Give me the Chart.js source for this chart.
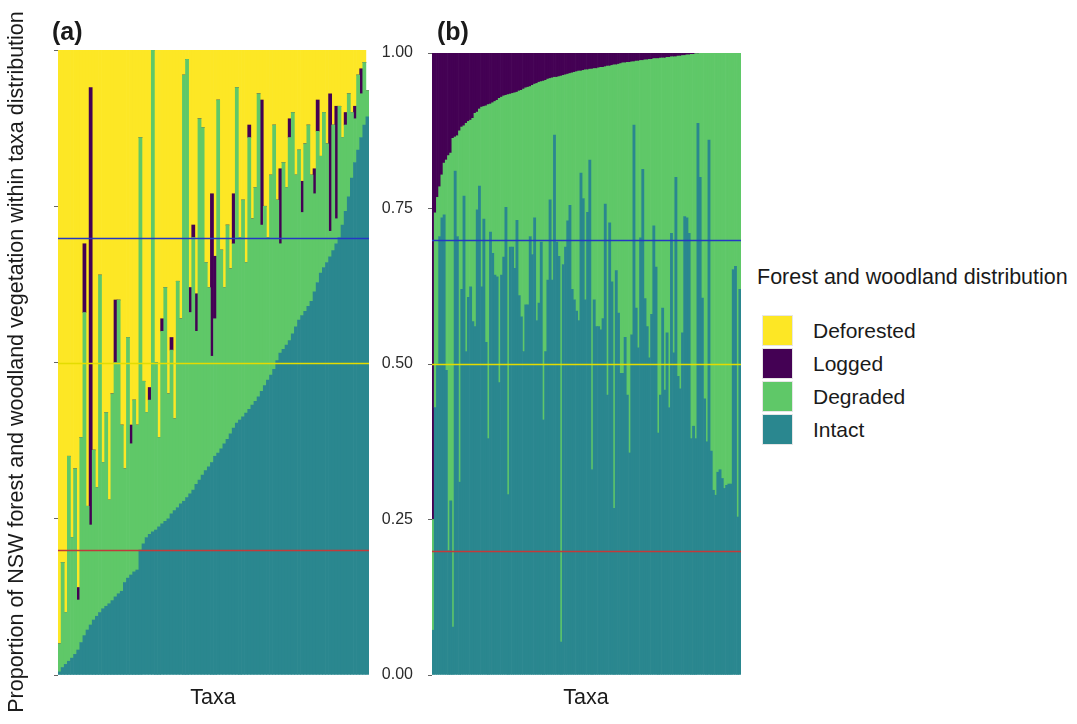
<!DOCTYPE html>
<html>
<head>
<meta charset="utf-8">
<title>NSW forest and woodland vegetation within taxa distribution</title>
<script src="https://cdn.jsdelivr.net/npm/chart.js@4.4.0/dist/chart.umd.min.js"></script>
<style>
  body { margin: 0; background: #fff; font-family: 'Liberation Sans', Arial, sans-serif; color: #1a1a1a; }
  #wrap { position: relative; width: 1077px; height: 724px; overflow: hidden; }
  canvas { position: absolute; top: 0; }
  .txt { position: absolute; white-space: nowrap; }
  .panel { font-size: 25px; font-weight: bold; line-height: 28px; }
  .axis { font-size: 21.5px; line-height: 24px; text-align: center; }
  #ytitle { left: -364px; top: 350px; width: 760px; transform: rotate(-90deg); }
  #legend { position: absolute; left: 757px; top: 264px; font-size: 21px; }
  #legend .title { font-size: 21.5px; line-height: 26px; margin-bottom: 25px; }
  #legend .item { height: 31px; margin-bottom: 2px; margin-left: 5px; display: flex; align-items: center; }
  #legend .sw { width: 31px; height: 31px; box-sizing: border-box; border: 1px solid #e6e6e6; margin-right: 20px; }
</style>
</head>
<body>
<div id="wrap">
  <canvas id="chartA" width="380" height="724" style="left:0;width:380px;height:724px"></canvas>
  <canvas id="chartB" width="370" height="724" style="left:380px;width:370px;height:724px"></canvas>
  <div class="txt panel" style="left:52px;top:17px">(a)</div>
  <div class="txt panel" style="left:437px;top:17px">(b)</div>
  <div class="txt axis" style="left:113px;top:685px;width:200px">Taxa</div>
  <div class="txt axis" style="left:486px;top:685px;width:200px">Taxa</div>
  <div class="txt axis" id="ytitle">Proportion of NSW forest and woodland vegetation within taxa distribution</div>
  <div id="legend"></div>
</div>
<script>
// legend / series
const seriesNames = ['Intact', 'Degraded', 'Logged', 'Deforested'];
const seriesColors = ['#2a878f', '#5fc868', '#440154', '#fde725'];

// reference lines
const refLevels = [0.7, 0.5, 0.2];
const refColors = ['#2438c4', '#e4dc00', '#c23a3a'];

const yTicks = [0, 0.25, 0.5, 0.75, 1];

// (a) all vegetation, sorted by intact
const intactA = [
  0.005,0.012,0.017,0.022,0.027,0.033,0.040,0.052,0.063,0.072,
  0.080,0.088,0.094,0.100,0.106,0.110,0.114,0.119,0.125,0.130,
  0.134,0.148,0.155,0.160,0.165,0.168,0.200,0.210,0.220,0.225,
  0.229,0.232,0.237,0.242,0.246,0.250,0.258,0.263,0.268,0.274,
  0.278,0.284,0.290,0.296,0.305,0.312,0.320,0.327,0.333,0.340,
  0.350,0.355,0.362,0.370,0.377,0.386,0.395,0.403,0.408,0.413,
  0.419,0.425,0.432,0.438,0.445,0.454,0.463,0.472,0.480,0.489,
  0.503,0.515,0.521,0.528,0.535,0.546,0.557,0.568,0.575,0.582,
  0.590,0.598,0.613,0.628,0.643,0.652,0.660,0.669,0.679,0.690,
  0.700,0.720,0.742,0.765,0.795,0.820,0.840,0.860,0.880,0.893
];
const degradedA = [
  0.045,0.168,0.083,0.328,0.193,0.297,0.080,0.328,0.517,0.198,
  0.160,0.272,0.206,0.540,0.234,0.310,0.166,0.331,0.375,0.470,
  0.266,0.182,0.385,0.210,0.275,0.232,0.660,0.260,0.200,0.215,
  0.771,0.268,0.143,0.308,0.374,0.200,0.262,0.147,0.362,0.296,
  0.682,0.701,0.290,0.404,0.245,0.578,0.556,0.333,0.287,0.170,
  0.220,0.565,0.318,0.250,0.343,0.264,0.295,0.537,0.292,0.347,
  0.241,0.435,0.298,0.342,0.485,0.266,0.287,0.228,0.320,0.391,
  0.257,0.175,0.299,0.252,0.325,0.354,0.243,0.272,0.165,0.268,
  0.290,0.202,0.157,0.242,0.187,0.248,0.190,0.041,0.201,0.040,
  0.210,0.140,0.138,0.165,0.105,0.070,0.120,0.070,0.100,0.042
];
const loggedA = [
  0,0,0,0,0,0,0.02,0,0.11,0,
  0.70,0,0,0,0,0,0,0,0.10,0,
  0,0,0,0.03,0,0,0,0,0,0.02,
  0,0,0,0.02,0,0,0.02,0,0,0,
  0,0,0.04,0.02,0.06,0,0,0,0,0.26,
  0.10,0,0,0,0,0,0.08,0,0,0,
  0,0.02,0,0,0,0.20,0,0,0,0,
  0,0.12,0,0,0.03,0,0,0,0.05,0,
  0,0,0.04,0.05,0,0,0,0.22,0,0.18,
  0,0,0.02,0,0,0.02,0,0.04,0,0
];
const deforestedA = [
  0.95,0.82,0.90,0.65,0.78,0.67,0.86,0.62,0.31,0.73,
  0.06,0.64,0.70,0.36,0.66,0.58,0.72,0.55,0.40,0.40,
  0.60,0.67,0.46,0.60,0.56,0.60,0.14,0.53,0.58,0.54,
  0,0.50,0.62,0.43,0.38,0.55,0.46,0.59,0.37,0.43,
  0.04,0.015,0.38,0.28,0.39,0.11,0.124,0.34,0.38,0.23,
  0.33,0.08,0.32,0.38,0.28,0.35,0.23,0.06,0.30,0.24,
  0.34,0.12,0.27,0.22,0.07,0.08,0.25,0.30,0.20,0.12,
  0.24,0.19,0.18,0.22,0.11,0.10,0.20,0.16,0.21,0.15,
  0.12,0.20,0.19,0.08,0.17,0.10,0.15,0.07,0.12,0.09,
  0.09,0.14,0.10,0.07,0.10,0.09,0.04,0.03,0.02,0
];

// (b) forest only, sorted by logged
const intactB = [
  0.072,0.43,0.50,0.705,0.735,0.74,0.49,0.20,0.28,0.077,
  0.81,0.705,0.31,0.62,0.77,0.52,0.607,0.624,0.568,0.56,
  0.748,0.786,0.624,0.733,0.535,0.38,0.712,0.678,0.643,0.64,
  0.47,0.643,0.672,0.752,0.29,0.688,0.688,0.654,0.731,0.61,
  0.576,0.52,0.595,0.595,0.705,0.676,0.735,0.57,0.598,0.696,
  0.41,0.52,0.635,0.764,0.635,0.868,0.696,0.673,0.053,0.66,
  0.688,0.73,0.755,0.62,0.603,0.585,0.57,0.807,0.766,0.603,
  0.744,0.828,0.33,0.603,0.56,0.56,0.555,0.573,0.757,0.45,
  0.727,0.632,0.268,0.65,0.582,0.485,0.485,0.543,0.45,0.357,
  0.547,0.884,0.59,0.526,0.703,0.813,0.605,0.56,0.51,0.58,
  0.722,0.656,0.389,0.45,0.59,0.458,0.55,0.43,0.71,0.518,
  0.80,0.48,0.46,0.55,0.737,0.735,0.71,0.38,0.40,0.38,
  0.887,0.80,0.606,0.444,0.375,0.86,0.36,0.297,0.289,0.326,
  0.33,0.316,0.30,0.305,0.307,0.307,0.652,0.657,0.254,0.62
];
const degradedB = [
  0.178,0.313,0.268,0.08,0.069,0.083,0.338,0.635,0.559,0.786,
  0.055,0.162,0.565,0.261,0.113,0.367,0.283,0.268,0.327,0.343,
  0.157,0.124,0.289,0.181,0.38,0.537,0.206,0.242,0.279,0.284,
  0.457,0.286,0.259,0.18,0.643,0.246,0.247,0.282,0.206,0.329,
  0.364,0.422,0.349,0.35,0.241,0.272,0.215,0.381,0.355,0.258,
  0.545,0.436,0.323,0.195,0.325,0.093,0.265,0.289,0.91,0.304,
  0.277,0.236,0.212,0.348,0.366,0.385,0.401,0.164,0.206,0.37,
  0.229,0.146,0.644,0.372,0.415,0.416,0.422,0.404,0.221,0.529,
  0.252,0.348,0.713,0.331,0.40,0.498,0.499,0.441,0.535,0.628,
  0.439,0.102,0.397,0.461,0.285,0.175,0.384,0.429,0.48,0.41,
  0.269,0.335,0.602,0.542,0.402,0.534,0.443,0.563,0.284,0.476,
  0.194,0.515,0.535,0.446,0.259,0.262,0.287,0.618,0.598,0.619,
  0.112,0.20,0.394,0.556,0.625,0.14,0.64,0.703,0.711,0.674,
  0.67,0.684,0.70,0.695,0.693,0.693,0.348,0.343,0.746,0.38
];
const loggedB = [
  0.75,0.257,0.232,0.215,0.196,0.177,0.172,0.165,0.161,0.137,
  0.135,0.133,0.125,0.119,0.117,0.113,0.110,0.108,0.105,0.097,
  0.095,0.09,0.087,0.086,0.085,0.083,0.082,0.080,0.078,0.076,
  0.073,0.071,0.069,0.068,0.067,0.066,0.065,0.064,0.063,0.061,
  0.06,0.058,0.056,0.055,0.054,0.052,0.05,0.049,0.047,0.046,
  0.045,0.044,0.042,0.041,0.04,0.039,0.039,0.038,0.037,0.036,
  0.035,0.034,0.033,0.032,0.031,0.03,0.029,0.029,0.028,0.027,
  0.027,0.026,0.026,0.025,0.025,0.024,0.023,0.023,0.022,0.021,
  0.021,0.02,0.019,0.019,0.018,0.017,0.016,0.016,0.015,0.015,
  0.014,0.014,0.013,0.013,0.012,0.012,0.011,0.011,0.01,0.01,
  0.009,0.009,0.009,0.008,0.008,0.008,0.007,0.007,0.006,0.006,
  0.006,0.005,0.005,0.004,0.004,0.003,0.003,0.002,0.002,0.001,
  0.001,0,0,0,0,0,0,0,0,0,
  0,0,0,0,0,0,0,0,0,0
];

const taxaA = intactA.map((_, i) => 'Taxon ' + (i + 1));
const taxaB = intactB.map((_, i) => 'Taxon ' + (i + 1));

Chart.defaults.font.family = "'Liberation Sans', Arial, sans-serif";
Chart.defaults.color = '#333';

const refLinePlugin = {
    id: 'refLines',
    afterDatasetsDraw(chart) {
        const { ctx, chartArea, scales } = chart;
        refLevels.forEach((v, i) => {
            const py = Math.round(scales.y.getPixelForValue(v)) + 0.5;
            ctx.save();
            ctx.strokeStyle = refColors[i];
            ctx.lineWidth = i === 1 ? 1.4 : 1.6;
            ctx.beginPath();
            ctx.moveTo(chartArea.left, py);
            ctx.lineTo(chartArea.right, py);
            ctx.stroke();
            ctx.restore();
        });
    }
};

function makeSets(series) {
    return series.map((data, i) => ({
        label: seriesNames[i],
        data: data,
        backgroundColor: seriesColors[i],
        borderWidth: 0,
        barPercentage: 1,
        categoryPercentage: 1
    }));
}

function makePanel(id, labels, series, opt) {
    return new Chart(document.getElementById(id), {
        type: 'bar',
        data: { labels: labels, datasets: makeSets(series) },
        options: {
            responsive: false,
            animation: false,
            layout: { padding: opt.padding },
            plugins: { legend: { display: false }, tooltip: { enabled: false } },
            scales: {
                x: { stacked: true, display: false },
                y: {
                    stacked: true,
                    min: 0,
                    max: 1,
                    afterBuildTicks: s => { s.ticks = yTicks.map(v => ({ value: v })); },
                    afterFit: s => { s.width = opt.axisWidth; },
                    border: { display: false },
                    grid: { drawOnChartArea: false, drawTicks: true, tickLength: 4, color: '#666' },
                    ticks: {
                        padding: 15,
                        font: { size: 16 },
                        color: '#2a2a2a',
                        callback: v => opt.showLabels ? Number(v).toFixed(2) : ''
                    }
                }
            }
        },
        plugins: [refLinePlugin]
    });
}

makePanel('chartA', taxaA, [intactA, degradedA, loggedA, deforestedA],
    { padding: { top: 50, bottom: 49, right: 11, left: 0 }, axisWidth: 58, showLabels: false });
makePanel('chartB', taxaB, [intactB, degradedB, loggedB],
    { padding: { top: 53, bottom: 49, right: 9, left: 0 }, axisWidth: 52, showLabels: true });

// legend, top to bottom as in the figure
const legend = document.getElementById('legend');
legend.innerHTML = '<div class="title">Forest and woodland distribution</div>';
[3, 2, 1, 0].forEach(i => {
    const row = document.createElement('div');
    row.className = 'item';
    row.innerHTML = '<span class="sw" style="background:' + seriesColors[i] + '"></span>' + seriesNames[i];
    legend.appendChild(row);
});
</script>
</body>
</html>
